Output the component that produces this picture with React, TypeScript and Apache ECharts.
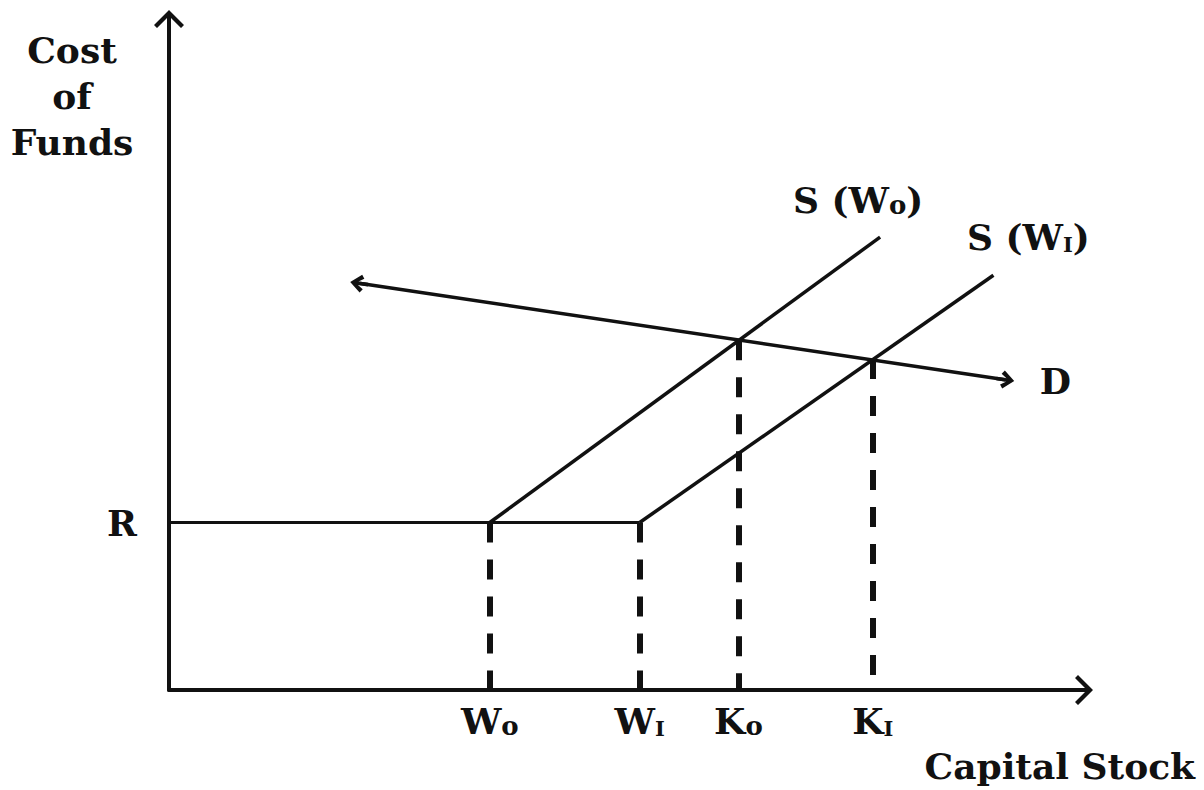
import React, { useEffect, useRef } from 'react';
import * as echarts from 'echarts';

// ---- data (abstract units, 0..100 on both axes) ----
const rLevel = 25;
const tickNames = ['W0', 'W1', 'K0', 'K1'];
const tickValues = [35.1, 51.5, 62.3, 77.0];
const kHeights = [52.2, 49.4]; // where S(W0), S(W1) meet D
const supplyW0 = [[35.1, 25], [77.8, 67.6]];
const supplyW1 = [[51.5, 25], [90.2, 61.9]];
const flatSupply = [[0, 25], [51.5, 25]];
const demand = [[20.8, 60.7], [91.5, 46.3]];
const curveNames = ['S (W0)', 'S (W1)', 'D'];

const FONT = '"DejaVu Serif", "Liberation Serif", serif';
const INK = '#111111';

const AXIS_ARROW = 'path://M15,0 L30,15 L27,18 L17,8 L17,20 L13,20 L13,8 L3,18 L0,15 Z';
const LINE_ARROW = 'path://M10,0 L20,12 L16,15 L12,9 L12,20 L8,20 L8,9 L4,15 L0,12 Z';

const tok = (size: number) => ({
  fontFamily: FONT,
  fontWeight: 'bold' as const,
  fontSize: size,
  color: INK,
  opacity: 1,
  verticalAlign: 'bottom' as const,
});
const rich = { b: tok(36), o: tok(26), i: tok(21) };

// 'W0' -> W with small o ; 'W1' -> W with small capital I
function sub(ch: string) {
  return ch === '0' ? '{o|o}' : '{i|I}';
}
function richName(name: string) {
  if (name === 'D' || name === 'R') return `{b|${name}}`;
  const m = name.match(/^S \((\w)(\d)\)$/);
  if (m) return `{b|S (${m[1]}}${sub(m[2])}{b|)}`;
  return `{b|${name[0]}}${sub(name[1])}`;
}

export default function App() {
  const ref = useRef<HTMLDivElement>(null);
  useEffect(() => {
    if (!ref.current) return;
    const chart = echarts.init(ref.current, undefined, { renderer: 'svg' });

    const dashedSegments = tickValues.map((x, i) => ({
      coords: [[x, i < 2 ? rLevel : kHeights[i - 2]], [x, 0]],
    }));
    const labelAnchors = [supplyW0[1], supplyW1[1], demand[1]];
    const labelOffsets = [[-22, -37], [35, -38], [50, 1]];

    chart.setOption({
      animation: false,
      backgroundColor: '#ffffff',
      grid: { left: 169, right: 121, top: 20, bottom: 100 },
      xAxis: {
        type: 'value',
        min: 0,
        max: 100,
        axisLine: {
          show: true,
          symbol: ['none', AXIS_ARROW],
          symbolSize: [30, 20],
          lineStyle: { color: INK, width: 4 },
        },
        axisTick: { show: false },
        splitLine: { show: false },
        axisLabel: {
          customValues: tickValues,
          margin: 13,
          formatter: (v: number) => {
            const i = tickValues.findIndex((t) => Math.abs(t - v) < 1e-6);
            return i >= 0 ? richName(tickNames[i]) : '';
          },
          rich,
        },
      },
      yAxis: {
        type: 'value',
        min: 0,
        max: 100,
        axisLine: {
          show: true,
          symbol: ['none', AXIS_ARROW],
          symbolSize: [30, 20],
          lineStyle: { color: INK, width: 4 },
        },
        axisTick: { show: false },
        splitLine: { show: false },
        axisLabel: {
          customValues: [rLevel],
          margin: 32,
          formatter: () => richName('R'),
          rich,
        },
      },
      graphic: [
        {
          type: 'text',
          x: 72,
          y: 27,
          style: {
            text: 'Cost\nof\nFunds',
            fontFamily: FONT,
            fontWeight: 'bold',
            fontSize: 36,
            lineHeight: 46,
            fill: INK,
            align: 'center',
            textAlign: 'center',
            verticalAlign: 'top',
          },
        },
        {
          type: 'text',
          right: 9,
          top: 748,
          style: {
            text: 'Capital Stock',
            fontFamily: FONT,
            fontWeight: 'bold',
            fontSize: 36,
            fill: INK,
          },
        },
      ],
      series: [
        {
          type: 'line',
          data: flatSupply,
          showSymbol: false,
          lineStyle: { color: INK, width: 3 },
          z: 3,
        },
        {
          type: 'line',
          data: supplyW0,
          showSymbol: false,
          lineStyle: { color: INK, width: 3.5 },
          z: 3,
        },
        {
          type: 'line',
          data: supplyW1,
          showSymbol: false,
          lineStyle: { color: INK, width: 3.5 },
          z: 3,
        },
        {
          type: 'lines',
          coordinateSystem: 'cartesian2d',
          data: [{ coords: demand }],
          symbol: [LINE_ARROW, LINE_ARROW],
          symbolSize: 18,
          lineStyle: { color: INK, width: 3.5, opacity: 1 },
          z: 3,
        },
        {
          type: 'lines',
          coordinateSystem: 'cartesian2d',
          data: dashedSegments,
          lineStyle: { color: INK, width: 6, type: [20, 17], opacity: 1 },
          z: 2,
        },
        {
          type: 'scatter',
          symbolSize: 0,
          itemStyle: { color: INK, opacity: 1 },
          emphasis: { disabled: true },
          data: labelAnchors.map((p, i) => ({
            value: p,
            label: {
              show: true,
              position: 'inside',
              offset: labelOffsets[i],
              color: INK,
              opacity: 1,
              formatter: () => richName(curveNames[i]),
              rich,
            },
          })),
          z: 4,
        },
      ],
    });
    return () => chart.dispose();
  }, []);
  return (
    <div
      ref={ref}
      style={{ position: 'fixed', left: 0, top: 0, width: 1204, height: 790 }}
    />
  );
}
